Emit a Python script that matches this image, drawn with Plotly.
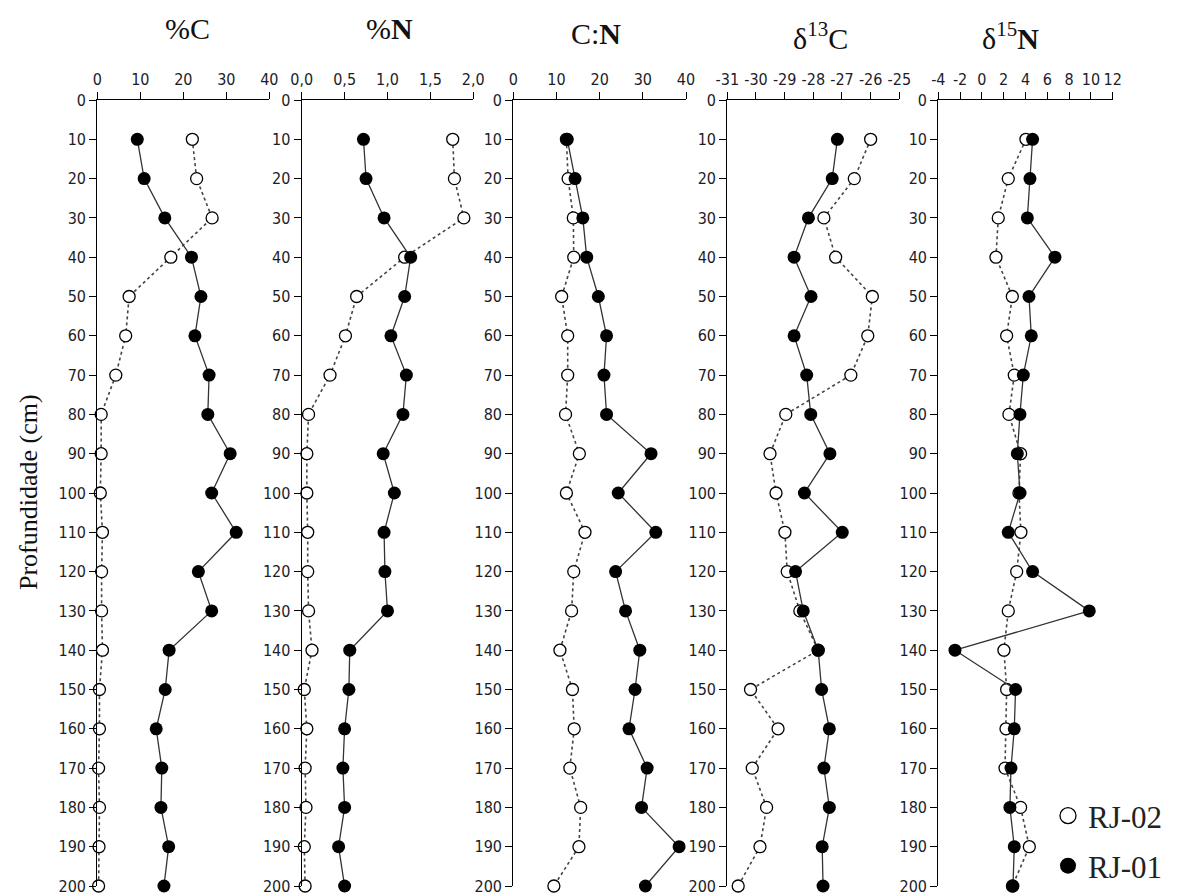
import plotly.graph_objects as go

depth = [10, 20, 30, 40, 50, 60, 70, 80, 90, 100, 110, 120, 130, 140, 150, 160, 170, 180, 190, 200]

c_rj01 = [9.3, 10.9, 15.7, 21.9, 24.1, 22.7, 26.0, 25.7, 30.9, 26.6, 32.3, 23.5, 26.6, 16.7, 15.8, 13.7, 15.0, 14.8, 16.6, 15.5]
c_rj02 = [22.1, 23.1, 26.7, 17.1, 7.4, 6.6, 4.3, 0.9, 0.9, 0.7, 1.2, 1.0, 1.0, 1.2, 0.5, 0.5, 0.3, 0.5, 0.4, 0.3]

n_rj01 = [0.72, 0.75, 0.96, 1.27, 1.20, 1.04, 1.22, 1.18, 0.95, 1.08, 0.96, 0.97, 1.00, 0.56, 0.55, 0.50, 0.48, 0.50, 0.43, 0.50]
n_rj02 = [1.76, 1.78, 1.89, 1.20, 0.64, 0.51, 0.33, 0.08, 0.06, 0.06, 0.07, 0.07, 0.08, 0.12, 0.03, 0.06, 0.04, 0.05, 0.03, 0.04]

cn_rj01 = [12.5, 14.3, 16.1, 17.0, 19.7, 21.6, 21.0, 21.6, 31.9, 24.3, 33.0, 23.7, 26.0, 29.3, 28.2, 26.8, 31.0, 29.7, 38.4, 30.6]
cn_rj02 = [12.3, 12.7, 13.9, 14.0, 11.2, 12.6, 12.6, 12.1, 15.3, 12.3, 16.6, 14.0, 13.5, 10.8, 13.7, 14.1, 13.1, 15.6, 15.2, 9.4]

d13c_rj01 = [-27.16, -27.34, -28.17, -28.67, -28.08, -28.67, -28.23, -28.09, -27.42, -28.31, -26.99, -28.62, -28.35, -27.83, -27.71, -27.44, -27.63, -27.44, -27.69, -27.66]
d13c_rj02 = [-26.0, -26.57, -27.63, -27.22, -25.94, -26.10, -26.69, -28.96, -29.51, -29.30, -28.99, -28.91, -28.47, -27.83, -30.19, -29.23, -30.13, -29.63, -29.86, -30.62]

d15n_rj01 = [4.65, 4.41, 4.17, 6.70, 4.32, 4.53, 3.80, 3.49, 3.25, 3.50, 2.42, 4.65, 9.85, -2.47, 3.09, 2.97, 2.67, 2.57, 2.97, 2.85]
d15n_rj02 = [4.04, 2.42, 1.50, 1.29, 2.79, 2.27, 2.97, 2.48, 3.55, 3.40, 3.58, 3.19, 2.42, 2.02, 2.27, 2.21, 2.12, 3.55, 4.35, 2.80]

depth_ticks = list(range(0, 201, 10))

panel_titles = ["%C", "%<b>N</b>", "C:<b>N</b>", "δ<sup>13</sup>C", "δ<sup>15</sup><b>N</b>"]
c_ticks = [0, 10, 20, 30, 40]
c_ticktext = ["0", "10", "20", "30", "40"]
n_ticks = [0.0, 0.5, 1.0, 1.5, 2.0]
n_ticktext = ["0,0", "0,5", "1,0", "1,5", "2,0"]
cn_ticks = [0, 10, 20, 30, 40]
cn_ticktext = ["0", "10", "20", "30", "40"]
d13c_ticks = [-31, -30, -29, -28, -27, -26, -25]
d13c_ticktext = ["-31", "-30", "-29", "-28", "-27", "-26", "-25"]
d15n_ticks = [-4, -2, 0, 2, 4, 6, 8, 10, 12]
d15n_ticktext = ["-4", "-2", "0", "2", "4", "6", "8", "10", "12"]

series_names = ["RJ-02", "RJ-01"]
y_title = "Profundidade (cm)"

panels = [
    (c_rj01, c_rj02, c_ticks, c_ticktext),
    (n_rj01, n_rj02, n_ticks, n_ticktext),
    (cn_rj01, cn_rj02, cn_ticks, cn_ticktext),
    (d13c_rj01, d13c_rj02, d13c_ticks, d13c_ticktext),
    (d15n_rj01, d15n_rj02, d15n_ticks, d15n_ticktext),
]

W, H = 1188, 893
x_px = [(97.3, 269.3), (301.7, 473.3), (513.3, 686.0), (727.3, 899.3), (938.3, 1112.7)]
y_top_px, y_bot_px = 100.0, 886.0
title_px = [(187, 28), (389, 28), (596, 33), (820, 36), (1010, 36)]

tick_font = dict(family="Liberation Sans Narrow, DejaVu Sans Condensed, Arial Narrow, sans-serif", size=16, color="#1c1c28")
serif = "Liberation Serif, Times New Roman, serif"

fig = go.Figure()
layout = dict(
    width=W, height=H,
    margin=dict(l=0, r=0, t=0, b=0),
    paper_bgcolor="white", plot_bgcolor="white",
    showlegend=True,
)

for i, (v01, v02, tv, tt) in enumerate(panels):
    k = "" if i == 0 else str(i + 1)
    xa, ya = "x" + k, "y" + k
    fig.add_trace(go.Scatter(
        x=v02, y=depth, xaxis=xa, yaxis=ya, mode="lines+markers",
        line=dict(color="#444444", width=1.6, dash="dot"),
        marker=dict(symbol="circle", size=12, color="white", line=dict(color="black", width=1.3)),
        cliponaxis=False, showlegend=False))
    fig.add_trace(go.Scatter(
        x=v01, y=depth, xaxis=xa, yaxis=ya, mode="lines+markers",
        line=dict(color="#333333", width=1.3),
        marker=dict(symbol="circle", size=13, color="black", line=dict(color="black", width=0)),
        cliponaxis=False, showlegend=False))
    x0, x1 = x_px[i]
    rng = [tv[0], tv[-1]]
    layout["xaxis" + k] = dict(
        domain=[x0 / W, x1 / W], anchor=ya, side="top", range=rng,
        tickvals=tv, ticktext=tt, ticks="outside", ticklen=7, tickwidth=1.2,
        tickcolor="black", showline=True, linecolor="black", linewidth=1.3,
        showgrid=False, zeroline=False, tickfont=tick_font, automargin=False,
        ticklabeloverflow="allow")
    layout["yaxis" + k] = dict(
        domain=[1 - y_bot_px / H, 1 - y_top_px / H], anchor=xa, range=[200, 0],
        tickvals=depth_ticks, ticktext=[str(t) for t in depth_ticks],
        ticks="outside", ticklen=7, tickwidth=1.2, tickcolor="black",
        showline=True, linecolor="black", linewidth=1.3,
        showgrid=False, zeroline=False, tickfont=tick_font, automargin=False,
        ticklabeloverflow="allow")

# legend entries
fig.add_trace(go.Scatter(
    x=[None], y=[None], mode="markers", name=series_names[0],
    marker=dict(symbol="circle", size=20, color="white", line=dict(color="black", width=1.3)),
    legend="legend"))
fig.add_trace(go.Scatter(
    x=[None], y=[None], mode="markers", name=series_names[1],
    marker=dict(symbol="circle", size=20, color="black"),
    legend="legend2"))

leg_common = dict(font=dict(family=serif, size=31, color="#222"), bgcolor="rgba(0,0,0,0)",
                  xanchor="left", yanchor="middle", itemsizing="trace")
layout["legend"] = dict(x=1048 / W, y=1 - 816 / H, **leg_common)
layout["legend2"] = dict(x=1048 / W, y=1 - 866 / H, **leg_common)

annotations = []
for (cx, cy), t in zip(title_px, panel_titles):
    annotations.append(dict(text=t, x=cx / W, y=1 - cy / H, xref="paper", yref="paper",
                            showarrow=False, xanchor="center", yanchor="middle",
                            font=dict(family=serif, size=30, color="#111")))
annotations.append(dict(text=y_title, x=28 / W, y=1 - 492 / H, xref="paper", yref="paper",
                        showarrow=False, textangle=-90, xanchor="center", yanchor="middle",
                        font=dict(family=serif, size=26, color="#111")))
layout["annotations"] = annotations

fig.update_layout(**layout)
fig.write_html("out.html")
